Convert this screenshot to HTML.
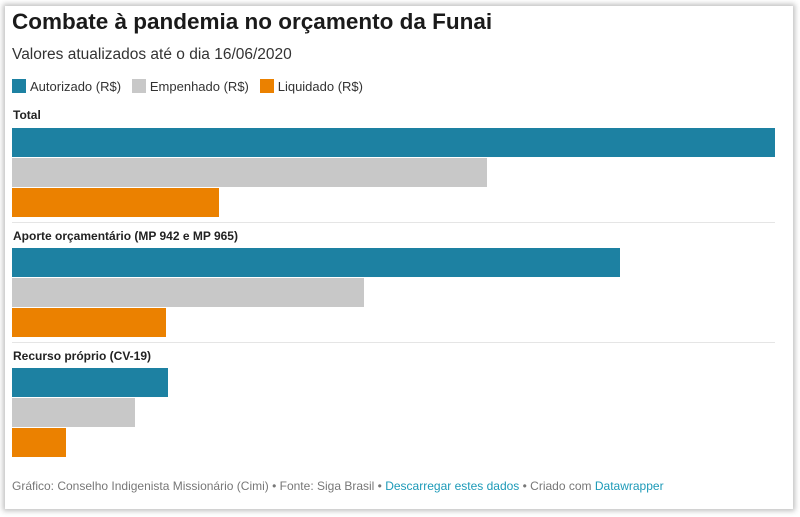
<!DOCTYPE html>
<html><head><meta charset="utf-8"><style>
body{margin:0;width:800px;height:517px;background:#fff;font-family:"Liberation Sans",sans-serif;position:relative;overflow:hidden}
.card{position:absolute;left:5px;top:6px;width:788px;height:503px;background:#fff;box-shadow:0 0 5px 2px rgba(0,0,0,0.25)}
.a{position:absolute;white-space:nowrap}
.b{position:absolute;left:12px;height:29px}
.t{background:#1d81a2}.g{background:#c8c8c8}.o{background:#eb8100}
.sep{position:absolute;left:12px;width:763px;height:1px;background:#e5e5e5}
.lab{font-size:12px;font-weight:bold;color:#222;left:13px}
.sw{display:inline-block;width:14px;height:14px;vertical-align:-2px;margin-right:4px}
</style></head><body>
<div class="card"></div>
<div class="a" style="left:12px;top:9px;font-size:22.5px;font-weight:bold;color:#1a1a1a">Combate à pandemia no orçamento da Funai</div>
<div class="a" style="left:12px;top:46px;font-size:15.5px;color:#333">Valores atualizados até o dia 16/06/2020</div>
<div class="a" style="left:12px;top:79px;font-size:13px;color:#333"><span class="sw t"></span>Autorizado (R$)&nbsp;&nbsp; <span class="sw g"></span>Empenhado (R$)&nbsp;&nbsp; <span class="sw o"></span>Liquidado (R$)</div>
<div class="a lab" style="top:108px">Total</div>
<div class="b t" style="top:128px;width:763px"></div>
<div class="b g" style="top:158px;width:475px"></div>
<div class="b o" style="top:188px;width:207px"></div>
<div class="sep" style="top:222px"></div>
<div class="a lab" style="top:229px">Aporte orçamentário (MP 942 e MP 965)</div>
<div class="b t" style="top:248px;width:608px"></div>
<div class="b g" style="top:278px;width:352px"></div>
<div class="b o" style="top:308px;width:154px"></div>
<div class="sep" style="top:342px"></div>
<div class="a lab" style="top:349px">Recurso próprio (CV-19)</div>
<div class="b t" style="top:368px;width:156px"></div>
<div class="b g" style="top:398px;width:123px"></div>
<div class="b o" style="top:428px;width:54px"></div>
<div class="a" style="left:12px;top:479px;font-size:12px;color:#777">Gráfico: Conselho Indigenista Missionário (Cimi) • Fonte: Siga Brasil • <span style="color:#1d9ab8">Descarregar estes dados</span> • Criado com <span style="color:#1d9ab8">Datawrapper</span></div>
</body></html>
